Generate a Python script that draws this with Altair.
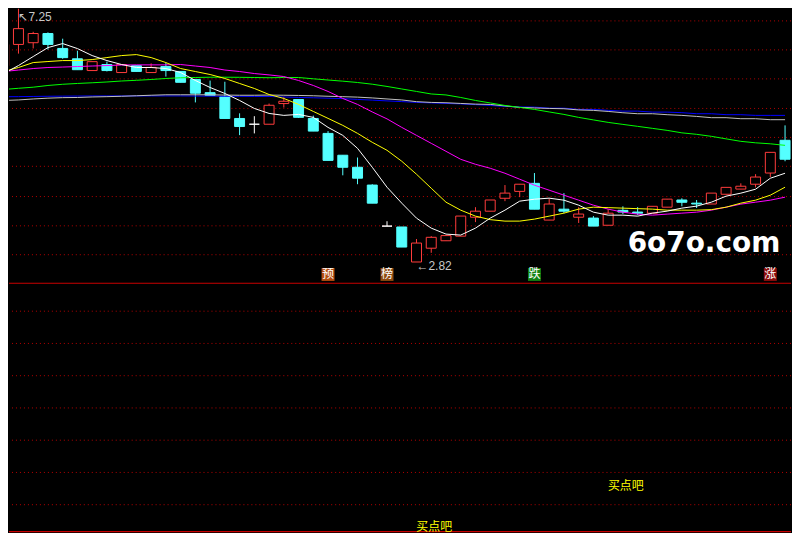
import altair as alt
import pandas as pd

# ---------------- data ----------------
idx = list(range(54))
opens = [6.24, 6.61, 6.64, 6.80, 6.54, 6.36, 6.155, 6.26, 6.12, 6.24,
         6.12, 6.225, 6.14, 6.00, 5.77, 5.70, 5.32, 5.22, 5.22, 5.58,
         5.65, 5.32, 5.06, 4.68, 4.47, 4.16, 3.445, 3.43, 2.82, 3.06,
         3.19, 3.27, 3.60, 3.705, 3.93, 4.05, 4.19, 3.55, 3.74, 3.60,
         3.585, 3.46, 3.72, 3.69, 3.67, 3.775, 3.90, 3.845, 3.83, 4.00,
         4.09, 4.175, 4.37, 4.94]
highs = [6.61, 7.25, 6.83, 6.82, 6.71, 6.50, 6.31, 6.31, 6.26, 6.24,
         6.28, 6.29, 6.14, 6.00, 5.98, 5.96, 5.41, 5.36, 5.58, 5.70,
         5.65, 5.37, 5.10, 4.68, 4.64, 4.175, 3.53, 3.43, 3.22, 3.27,
         3.28, 3.62, 3.775, 3.90, 4.16, 4.175, 4.37, 3.93, 4.02, 3.775,
         3.62, 3.74, 3.79, 3.775, 3.79, 3.915, 3.93, 3.90, 4.02, 4.12,
         4.19, 4.35, 4.73, 5.20]
lows = [6.12, 6.45, 6.54, 6.52, 6.36, 6.17, 6.155, 6.14, 6.12, 6.14,
        6.12, 6.05, 5.95, 5.60, 5.72, 5.32, 5.03, 5.06, 5.22, 5.51,
        5.33, 5.10, 4.59, 4.33, 4.175, 3.845, 3.445, 3.08, 2.82, 2.98,
        3.19, 3.27, 3.515, 3.705, 3.88, 3.95, 3.74, 3.55, 3.67, 3.50,
        3.445, 3.46, 3.655, 3.635, 3.67, 3.775, 3.79, 3.76, 3.83, 4.00,
        4.09, 4.12, 4.30, 4.575]
closes = [6.61, 6.885, 6.80, 6.61, 6.38, 6.17, 6.31, 6.155, 6.26, 6.14,
          6.21, 6.155, 5.95, 5.76, 5.72, 5.32, 5.18, 5.22, 5.55, 5.62,
          5.34, 5.10, 4.59, 4.47, 4.28, 3.845, 3.445, 3.08, 3.15, 3.25,
          3.28, 3.62, 3.705, 3.90, 4.02, 4.175, 3.74, 3.83, 3.705, 3.655,
          3.445, 3.67, 3.69, 3.67, 3.79, 3.915, 3.86, 3.83, 4.02, 4.12,
          4.14, 4.30, 4.73, 4.61]

ma5 = [6.103, 6.242, 6.399, 6.555, 6.625, 6.538, 6.416, 6.329, 6.260, 6.208,
       6.208, 6.190, 6.121, 5.982, 5.860, 5.756, 5.634, 5.495, 5.408, 5.374,
       5.391, 5.339, 5.165, 5.026, 4.800, 4.470, 4.123, 3.845, 3.584, 3.410,
       3.306, 3.289, 3.410, 3.584, 3.723, 3.880, 3.914, 3.932, 3.897, 3.810,
       3.688, 3.636, 3.636, 3.619, 3.671, 3.706, 3.758, 3.793, 3.862, 3.967,
       4.019, 4.088, 4.279, 4.366]
ma10 = [6.138, 6.208, 6.294, 6.312, 6.329, 6.329, 6.346, 6.381, 6.416, 6.433,
        6.381, 6.294, 6.190, 6.138, 6.086, 6.017, 5.930, 5.843, 5.738, 5.669,
        5.565, 5.443, 5.322, 5.200, 5.061, 4.905, 4.766, 4.575, 4.349, 4.105,
        3.862, 3.723, 3.619, 3.558, 3.532, 3.532, 3.567, 3.619, 3.671, 3.741,
        3.775, 3.767, 3.758, 3.749, 3.741, 3.723, 3.723, 3.723, 3.732, 3.775,
        3.845, 3.897, 3.984, 4.123]
ma20 = [6.138, 6.164, 6.190, 6.208, 6.216, 6.225, 6.234, 6.242, 6.251, 6.254,
        6.254, 6.254, 6.260, 6.234, 6.208, 6.164, 6.138, 6.103, 6.079, 6.051,
        5.982, 5.895, 5.791, 5.669, 5.565, 5.434, 5.313, 5.165, 5.026, 4.887,
        4.748, 4.609, 4.522, 4.453, 4.366, 4.262, 4.158, 4.071, 3.984, 3.897,
        3.810, 3.741, 3.688, 3.654, 3.636, 3.654, 3.671, 3.688, 3.723, 3.775,
        3.828, 3.862, 3.897, 3.949]
ma60 = [5.825, 5.846, 5.865, 5.895, 5.916, 5.930, 5.942, 5.956, 5.973, 5.985,
        5.999, 6.017, 6.029, 6.034, 6.039, 6.039, 6.037, 6.034, 6.030, 6.034,
        6.034, 6.011, 5.990, 5.970, 5.947, 5.917, 5.878, 5.834, 5.791, 5.747,
        5.730, 5.686, 5.634, 5.591, 5.547, 5.513, 5.478, 5.434, 5.391, 5.339,
        5.295, 5.252, 5.217, 5.183, 5.148, 5.113, 5.070, 5.044, 5.009, 4.965,
        4.922, 4.896, 4.879, 4.852]
ma120 = [5.634, 5.643, 5.660, 5.674, 5.683, 5.686, 5.695, 5.700, 5.707, 5.716,
         5.725, 5.733, 5.733, 5.733, 5.733, 5.728, 5.725, 5.725, 5.728, 5.725,
         5.721, 5.716, 5.707, 5.700, 5.692, 5.678, 5.660, 5.643, 5.613, 5.600,
         5.594, 5.582, 5.570, 5.565, 5.539, 5.513, 5.504, 5.495, 5.490, 5.469,
         5.461, 5.443, 5.420, 5.403, 5.403, 5.386, 5.374, 5.356, 5.334, 5.334,
         5.316, 5.316, 5.299, 5.299]
ma250 = [5.699, 5.700, 5.704, 5.707, 5.709, 5.711, 5.713, 5.713, 5.713, 5.713,
         5.713, 5.713, 5.713, 5.711, 5.709, 5.707, 5.706, 5.704, 5.704, 5.695,
         5.686, 5.681, 5.673, 5.666, 5.652, 5.640, 5.626, 5.614, 5.600, 5.591,
         5.582, 5.574, 5.561, 5.547, 5.530, 5.521, 5.518, 5.500, 5.500, 5.478,
         5.478, 5.461, 5.448, 5.448, 5.431, 5.431, 5.421, 5.403, 5.403, 5.386,
         5.386, 5.374, 5.374, 5.374]

grid_top = [7.02, 6.515, 6.01, 5.495, 4.99, 4.487, 3.96, 3.45, 2.947]
grid_bottom = [60, 50, 40, 30, 20, 10, 0]
panel_edges = [68.66, -8.35]

tag_idx = [22, 26, 36, 52]
tag_text = ["预", "榜", "跌", "涨"]
tag_price = [2.603, 2.603, 2.603, 2.603]

high_idx = [1]
high_price = [7.25]
high_text = ["↖7.25"]
low_idx = [28]
low_price = [2.82]
low_text = ["←2.82"]

buy_idx = [42.2, 29.2]
buy_level = [5.7, -7.0]
buy_text = ["买点吧", "买点吧"]

mark_idx = [47.5]
mark_price = [3.133]
mark_text = ["6o7o.com"]

# ---------------- tables ----------------
candles = pd.DataFrame({"idx": idx, "open": opens, "high": highs,
                        "low": lows, "close": closes})
candles["dir"] = ["up" if c > o else ("down" if c < o else "flat")
                  for o, c in zip(opens, closes)]
ma_df = pd.DataFrame({"idx": idx, "MA250": ma250, "MA120": ma120,
                      "MA60": ma60, "MA20": ma20, "MA10": ma10, "MA5": ma5})

W = 784
xs = alt.Scale(domain=[0.3586, 53.403], nice=False, zero=False, padding=0)
ys = alt.Scale(domain=[2.472, 7.233], nice=False, zero=False, padding=0)
ys2 = alt.Scale(domain=[-8.88, 68.75], nice=False, zero=False, padding=0)

X = alt.X("idx:Q", scale=xs, axis=None)
dir_dom = ["up", "down", "flat"]
stroke_scale = alt.Scale(domain=dir_dom, range=["#ff3c3c", "#54ffff", "#ffffff"])
fill_scale = alt.Scale(domain=dir_dom, range=["#000000", "#54ffff", "#ffffff"])

grid1 = alt.Chart(pd.DataFrame({"p": grid_top})).mark_rule(
    color="#b40000", strokeDash=[1, 3], strokeWidth=1
).encode(y=alt.Y("p:Q", scale=ys, axis=None))

wicks = alt.Chart(candles).mark_rule(strokeWidth=1, clip=True).encode(
    x=X, y=alt.Y("high:Q", scale=ys, axis=None), y2="low:Q",
    stroke=alt.Stroke("dir:N", scale=stroke_scale, legend=None))

bodies = alt.Chart(candles).mark_bar(size=10, strokeWidth=1, clip=True, orient="vertical").encode(
    x=X, y=alt.Y("open:Q", scale=ys, axis=None), y2="close:Q",
    fill=alt.Fill("dir:N", scale=fill_scale, legend=None),
    stroke=alt.Stroke("dir:N", scale=stroke_scale, legend=None))

ma_names = ["MA250", "MA120", "MA60", "MA20", "MA10", "MA5"]
ma_colors = ["#0000ff", "#c0c0c0", "#00ff00", "#ff00ff", "#ffff00", "#ffffff"]
lines = alt.Chart(ma_df).transform_fold(ma_names, as_=["ma", "val"]).mark_line(
    strokeWidth=1, clip=True
).encode(
    x=X, y=alt.Y("val:Q", scale=ys, axis=None),
    color=alt.Color("ma:N", scale=alt.Scale(domain=ma_names, range=ma_colors), legend=None),
    detail="ma:N")

hi_lbl = alt.Chart(pd.DataFrame({"idx": high_idx, "p": high_price, "t": high_text})).mark_text(
    align="left", baseline="middle", dy=9, fontSize=12, font="Liberation Sans", color="#c8c8c8",
    clip=True
).encode(x=X, y=alt.Y("p:Q", scale=ys, axis=None), text="t:N")
lo_lbl = alt.Chart(pd.DataFrame({"idx": low_idx, "p": low_price, "t": low_text})).mark_text(
    align="left", baseline="middle", dy=4, fontSize=12, font="Liberation Sans", color="#c8c8c8",
    clip=True
).encode(x=X, y=alt.Y("p:Q", scale=ys, axis=None), text="t:N")

tags = pd.DataFrame({"idx": tag_idx, "p": tag_price, "t": tag_text})
tag_box = alt.Chart(tags).mark_square(size=169, filled=True, opacity=1, strokeWidth=0).encode(
    x=X, y=alt.Y("p:Q", scale=ys, axis=None),
    fill=alt.Fill("t:N", scale=alt.Scale(domain=tag_text,
                  range=["#b54c10", "#8e4a10", "#128212", "#8c0c0c"]), legend=None))
tag_txt = alt.Chart(tags).mark_text(
    align="center", baseline="middle", fontSize=12, font="Noto Sans CJK SC", color="#ffffff"
).encode(x=X, y=alt.Y("p:Q", scale=ys, axis=None), text="t:N")

wm = alt.Chart(pd.DataFrame({"idx": mark_idx, "p": mark_price, "t": mark_text})).mark_text(
    align="center", baseline="middle", fontSize=28, font="DejaVu Sans", fontWeight="bold",
    color="#ffffff"
).encode(x=X, y=alt.Y("p:Q", scale=ys, axis=None), text="t:N")

top = alt.layer(grid1, wicks, bodies, lines, hi_lbl, lo_lbl, tag_box, tag_txt, wm).resolve_scale(
    color="independent", fill="independent", stroke="independent"
).properties(width=W, height=274)

grid2 = alt.Chart(pd.DataFrame({"v": grid_bottom})).mark_rule(
    color="#b40000", strokeDash=[1, 3], strokeWidth=1
).encode(y=alt.Y("v:Q", scale=ys2, axis=None))
edges = alt.Chart(pd.DataFrame({"v": panel_edges})).mark_rule(
    color="#c80000", strokeWidth=1.2
).encode(y=alt.Y("v:Q", scale=ys2, axis=None))
buy = alt.Chart(pd.DataFrame({"idx": buy_idx, "v": buy_level, "t": buy_text})).mark_text(
    align="center", baseline="middle", fontSize=12, font="Noto Sans CJK SC", color="#ffff00",
    clip=True
).encode(x=alt.X("idx:Q", scale=xs, axis=None), y=alt.Y("v:Q", scale=ys2, axis=None), text="t:N")

bottom = alt.layer(grid2, edges, buy).properties(width=W, height=251)

chart = alt.vconcat(top, bottom, spacing=0).properties(
    padding=0, background="#000000"
).configure_view(stroke=None).configure_scale(continuousPadding=0)

chart.save("out.html", embed_options={"renderer": "svg", "actions": False})
